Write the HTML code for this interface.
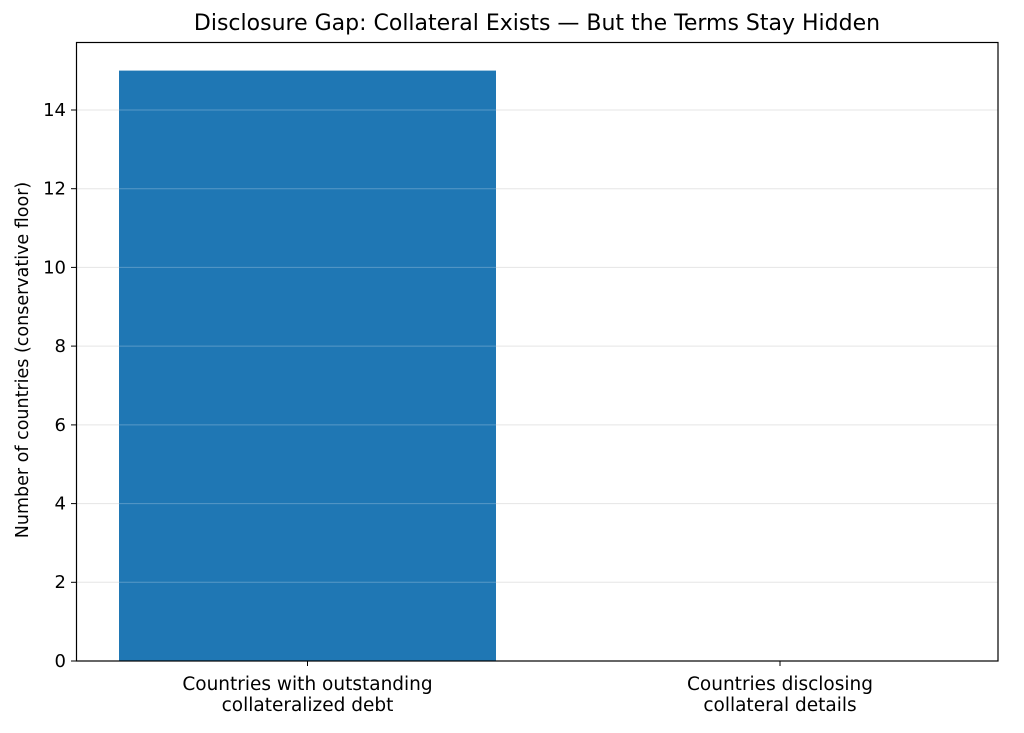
<!DOCTYPE html>
<html><head><meta charset="utf-8"><style>
body{margin:0;background:#fff;}
svg text{font-family:"DejaVu Sans","Liberation Sans",sans-serif;fill:#000;}
</style></head><body>
<svg width="1024" height="728" xmlns="http://www.w3.org/2000/svg">
<rect width="1024" height="728" fill="#fff"/>
<g stroke="#e5e5e5" stroke-width="1">
<line x1="76" x2="998" y1="582.3" y2="582.3"/>
<line x1="76" x2="998" y1="503.6" y2="503.6"/>
<line x1="76" x2="998" y1="424.9" y2="424.9"/>
<line x1="76" x2="998" y1="346.1" y2="346.1"/>
<line x1="76" x2="998" y1="267.4" y2="267.4"/>
<line x1="76" x2="998" y1="188.7" y2="188.7"/>
<line x1="76" x2="998" y1="110" y2="110"/>
</g>
<rect x="119" y="70.6" width="377" height="590.4" fill="#1f77b4"/>
<g stroke="#ffffff" stroke-opacity="0.25" stroke-width="1">
<line x1="119" x2="496" y1="582.3" y2="582.3"/>
<line x1="119" x2="496" y1="503.6" y2="503.6"/>
<line x1="119" x2="496" y1="424.9" y2="424.9"/>
<line x1="119" x2="496" y1="346.1" y2="346.1"/>
<line x1="119" x2="496" y1="267.4" y2="267.4"/>
<line x1="119" x2="496" y1="188.7" y2="188.7"/>
<line x1="119" x2="496" y1="110" y2="110"/>
</g>
<rect x="76.5" y="42.5" width="921.5" height="618.5" fill="none" stroke="#000" stroke-width="1.2"/>
<g stroke="#000" stroke-width="1">
<line x1="71" x2="76" y1="661" y2="661"/>
<line x1="71" x2="76" y1="582.3" y2="582.3"/>
<line x1="71" x2="76" y1="503.6" y2="503.6"/>
<line x1="71" x2="76" y1="424.9" y2="424.9"/>
<line x1="71" x2="76" y1="346.1" y2="346.1"/>
<line x1="71" x2="76" y1="267.4" y2="267.4"/>
<line x1="71" x2="76" y1="188.7" y2="188.7"/>
<line x1="71" x2="76" y1="110" y2="110"/>
<line x1="307.5" x2="307.5" y1="661" y2="666"/>
<line x1="780" x2="780" y1="661" y2="666"/>
</g>
<g font-size="18" text-anchor="end">
<text x="66" y="667">0</text>
<text x="66" y="588">2</text>
<text x="66" y="509.5">4</text>
<text x="66" y="431">6</text>
<text x="66" y="352">8</text>
<text x="66" y="273.5">10</text>
<text x="66" y="194.5">12</text>
<text x="66" y="116">14</text>
</g>
<g font-size="18.5" text-anchor="middle">
<text x="307.5" y="690">Countries with outstanding</text>
<text x="307.5" y="711">collateralized debt</text>
<text x="780" y="690">Countries disclosing</text>
<text x="780" y="711">collateral details</text>
</g>
<text x="28" y="360" font-size="17.5" text-anchor="middle" transform="rotate(-90 28 360)">Number of countries (conservative floor)</text>
<text x="537" y="30" font-size="22" text-anchor="middle">Disclosure Gap: Collateral Exists — But the Terms Stay Hidden</text>
</svg>
</body></html>
